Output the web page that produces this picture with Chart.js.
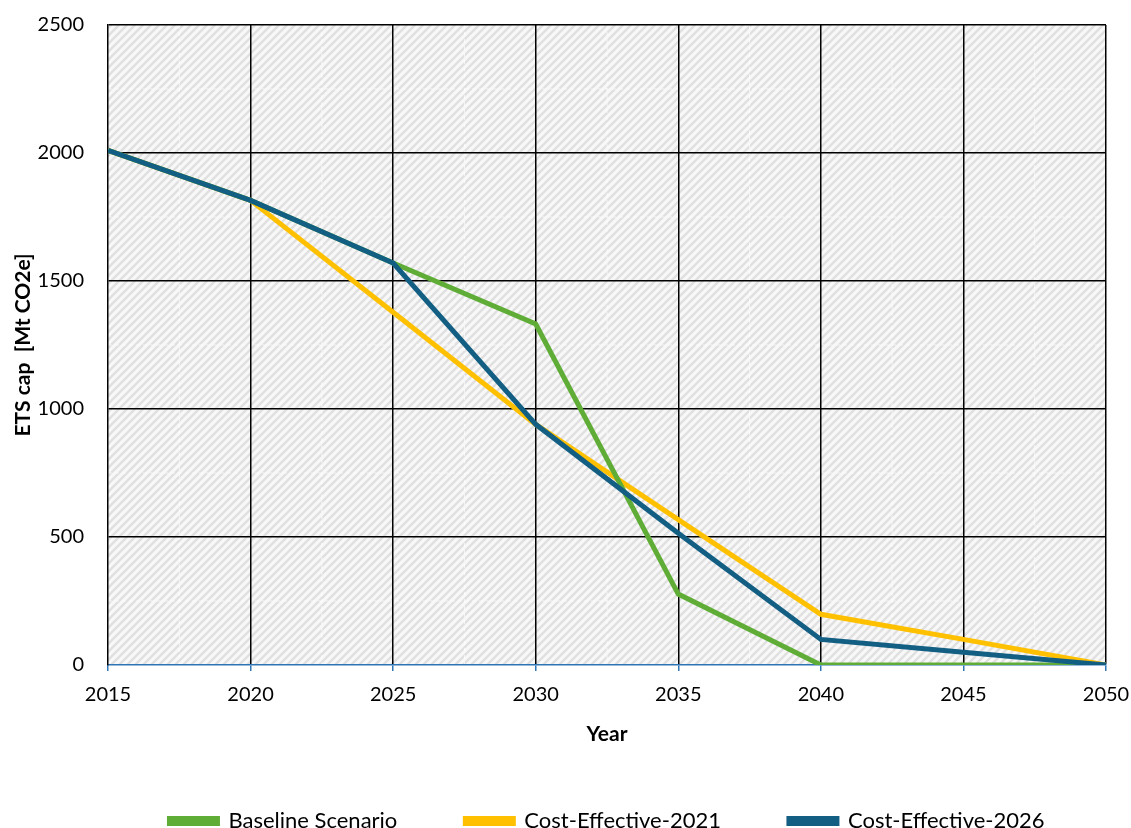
<!DOCTYPE html>
<html><head><meta charset="utf-8">
<script src="https://cdn.jsdelivr.net/npm/chart.js@4"></script>
<style>html,body{margin:0;padding:0;background:#fff}#wrap{width:1131px;height:828px}</style>
</head><body><div id="wrap"><canvas id="c"></canvas></div>
<script>
const years = [2015, 2020, 2025, 2030, 2035, 2040, 2045, 2050];
const baseline = [2010, 1815, 1570, 1332, 277, 0, 0, 0];
const cost2021 = [2010, 1815, 1378, 940, 568, 198, 100, 0];
const cost2026 = [2010, 1815, 1570, 940, 515, 100, 50, 0];
const seriesNames = ['Baseline Scenario', 'Cost-Effective-2021', 'Cost-Effective-2026'];
const yTicks = [0, 500, 1000, 1500, 2000, 2500];

function pts(vals){ return years.map((x,i)=>({x:x,y:vals[i]})); }

function makePattern(ctx){
  const t=document.createElement('canvas'); t.width=8; t.height=8;
  const g=t.getContext('2d');
  g.fillStyle='#f8f8f8'; g.fillRect(0,0,8,8);
  g.strokeStyle='#e0e0e0'; g.lineWidth=2.4;
  g.beginPath(); g.moveTo(-2,10); g.lineTo(10,-2); g.moveTo(-2,2); g.lineTo(2,-2); g.moveTo(6,10); g.lineTo(10,6); g.stroke();
  return ctx.createPattern(t,'repeat');
}

const bgPlugin = {
  id:'bg',
  beforeDraw(chart){
    const {ctx, chartArea:a, scales:{x,y}} = chart;
    ctx.save();
    ctx.fillStyle = makePattern(ctx);
    ctx.fillRect(a.left,a.top,a.right-a.left,a.bottom-a.top);
    ctx.strokeStyle='rgba(255,255,255,0.7)'; ctx.lineWidth=1; ctx.setLineDash([4,3]);
    for(let v=2017.5; v<2050; v+=5){ const px=x.getPixelForValue(v); ctx.beginPath(); ctx.moveTo(px,a.top); ctx.lineTo(px,a.bottom); ctx.stroke(); }
    for(let v=250; v<2500; v+=500){ const py=y.getPixelForValue(v); ctx.beginPath(); ctx.moveTo(a.left,py); ctx.lineTo(a.right,py); ctx.stroke(); }
    ctx.restore();
  }
};

const FONT = 'Lato, "Open Sans", sans-serif';
const GAP = '\u2003\u2003\u2003\u2003';
new Chart(document.getElementById('c'), {
  type:'line',
  data:{ datasets:[
    {label:seriesNames[0], data:pts(baseline), borderColor:'#5fad37', backgroundColor:'#5fad37', borderWidth:5, pointRadius:0, tension:0, order:2},
    {label:seriesNames[1], data:pts(cost2021), borderColor:'#ffc000', backgroundColor:'#ffc000', borderWidth:5, pointRadius:0, tension:0, order:3},
    {label:seriesNames[2], data:pts(cost2026), borderColor:'#135e83', backgroundColor:'#135e83', borderWidth:5, pointRadius:0, tension:0, order:1}
  ]},
  options:{
    responsive:true, maintainAspectRatio:false, animation:false,
    layout:{padding:{left:7,right:25,top:25,bottom:-14}},
    plugins:{
      tooltip:{enabled:false},
      legend:{position:'bottom', fullSize:false,
        labels:{
          generateLabels:(chart)=>{
            const items = Chart.defaults.plugins.legend.labels.generateLabels(chart);
            items.sort((a,b)=>a.datasetIndex-b.datasetIndex);
            items.forEach((it,i)=>{ if(i<items.length-1) it.text = it.text + GAP; });
            return items;
          },
          sort:(a,b)=>a.datasetIndex-b.datasetIndex,
          boxWidth:48, boxHeight:5, padding:2, color:'#000', font:{family:FONT,size:22}}
      }
    },
    scales:{
      x:{type:'linear', min:2015, max:2050,
        afterFit:(s)=>{ s.height = 143; s.paddingLeft = 0; s.paddingRight = 0; },
        ticks:{stepSize:5, color:'#000', font:{family:FONT,size:20}, padding:12, callback:v=>String(v), maxRotation:0},
        grid:{color:(c)=> (c.tick && (c.tick.value===2015)) ? 'transparent' : '#000', lineWidth:1.5, tickColor:'#2e75b6', tickLength:6, drawTicks:true},
        border:{display:true, color:'#2e75b6', width:1.5},
        title:{display:true, text:'Year', color:'#000', font:{family:FONT,size:21,weight:'bold'}, padding:{top:14,bottom:61}}
      },
      y:{min:0, max:2500,
        afterFit:(s)=>{ s.width = 101; s.paddingTop = 0; s.paddingBottom = 0; },
        afterBuildTicks:(s)=>{ s.ticks = yTicks.map(v=>({value:v})); },
        ticks:{color:'#000', font:{family:FONT,size:20}, padding:24, callback:v=>String(v)},
        grid:{color:(c)=> (c.tick && c.tick.value===0) ? 'transparent' : '#000', lineWidth:1.5, drawTicks:false},
        border:{display:true, color:'#000', width:1.5},
        title:{display:true, text:'ETS cap  [Mt CO2e]', color:'#000', font:{family:FONT,size:21,weight:'bold'}, padding:{top:4,bottom:4}}
      }
    }
  },
  plugins:[bgPlugin]
});
</script></body></html>
